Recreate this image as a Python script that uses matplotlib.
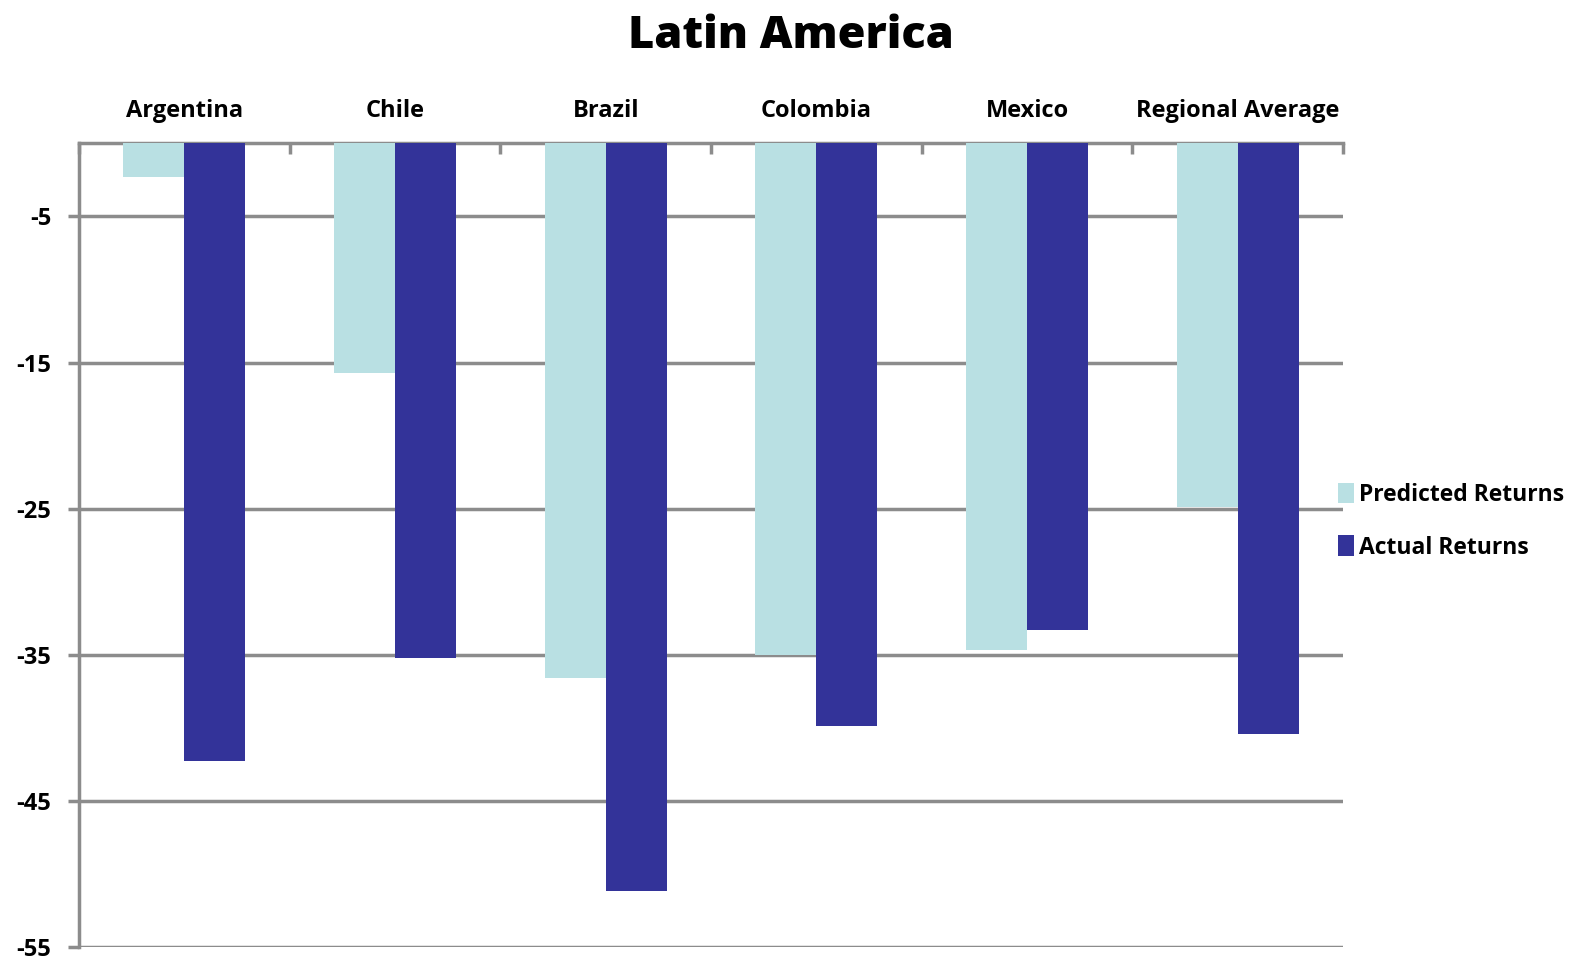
import numpy as np
import matplotlib.pyplot as plt

# Data
countries = ['Argentina', 'Chile', 'Brazil', 'Colombia', 'Mexico', 'Regional Average']
predicted = [-2.3, -15.7, -36.6, -35.0, -34.7, -24.9]
actual = [-42.3, -35.2, -51.2, -39.9, -33.3, -40.4]
y_ticks = [-5, -15, -25, -35, -45, -55]

LIGHT = '#b9e0e3'
DARK = '#333399'
GRID = '#8c8c8c'

plt.rcParams['font.family'] = ['Open Sans', 'DejaVu Sans']

fig = plt.figure(figsize=(15.8, 9.59), dpi=100)
ax = fig.add_axes([0.05, 0.0125, 0.80, 0.838])

x = np.arange(len(countries))
w = 0.29
ax.bar(x - w / 2, predicted, w, color=LIGHT, label='Predicted Returns', zorder=3)
ax.bar(x + w / 2, actual, w, color=DARK, label='Actual Returns', zorder=3)

ax.set_xlim(-0.5, len(countries) - 0.5)
ax.set_ylim(-55, 0)

# y axis
ax.set_yticks(y_ticks)
ax.set_yticklabels([str(v) for v in y_ticks], fontsize=17, fontweight='bold')
ax.yaxis.grid(True, color=GRID, linewidth=2.5, zorder=0)
ax.tick_params(axis='y', length=8, width=2.5, color=GRID, pad=12)

# x axis on top, category names centred, ticks at boundaries
ax.xaxis.tick_top()
ax.set_xticks(x)
ax.set_xticklabels(countries, fontsize=17, fontweight='bold')
ax.set_xticks(np.arange(len(countries) + 1) - 0.5, minor=True)
ax.tick_params(axis='x', which='major', length=0, pad=15)
ax.tick_params(axis='x', which='minor', length=8, width=2.5, color=GRID, direction='in')

for side in ['right', 'bottom']:
    ax.spines[side].set_visible(False)
for side in ['left', 'top']:
    ax.spines[side].set_color(GRID)
    ax.spines[side].set_linewidth(2.5)

fig.text(0.5005, 0.985, 'Latin America', fontsize=32.5, fontweight='heavy',
         ha='center', va='top')

leg = ax.legend(loc='center left', bbox_to_anchor=(0.98, 0.53), frameon=False,
                prop={'size': 16.5, 'weight': 'bold'}, handlelength=0.7,
                handleheight=1.0, handletextpad=0.2, labelspacing=1.25)

fig.savefig('out.png', dpi=100)
